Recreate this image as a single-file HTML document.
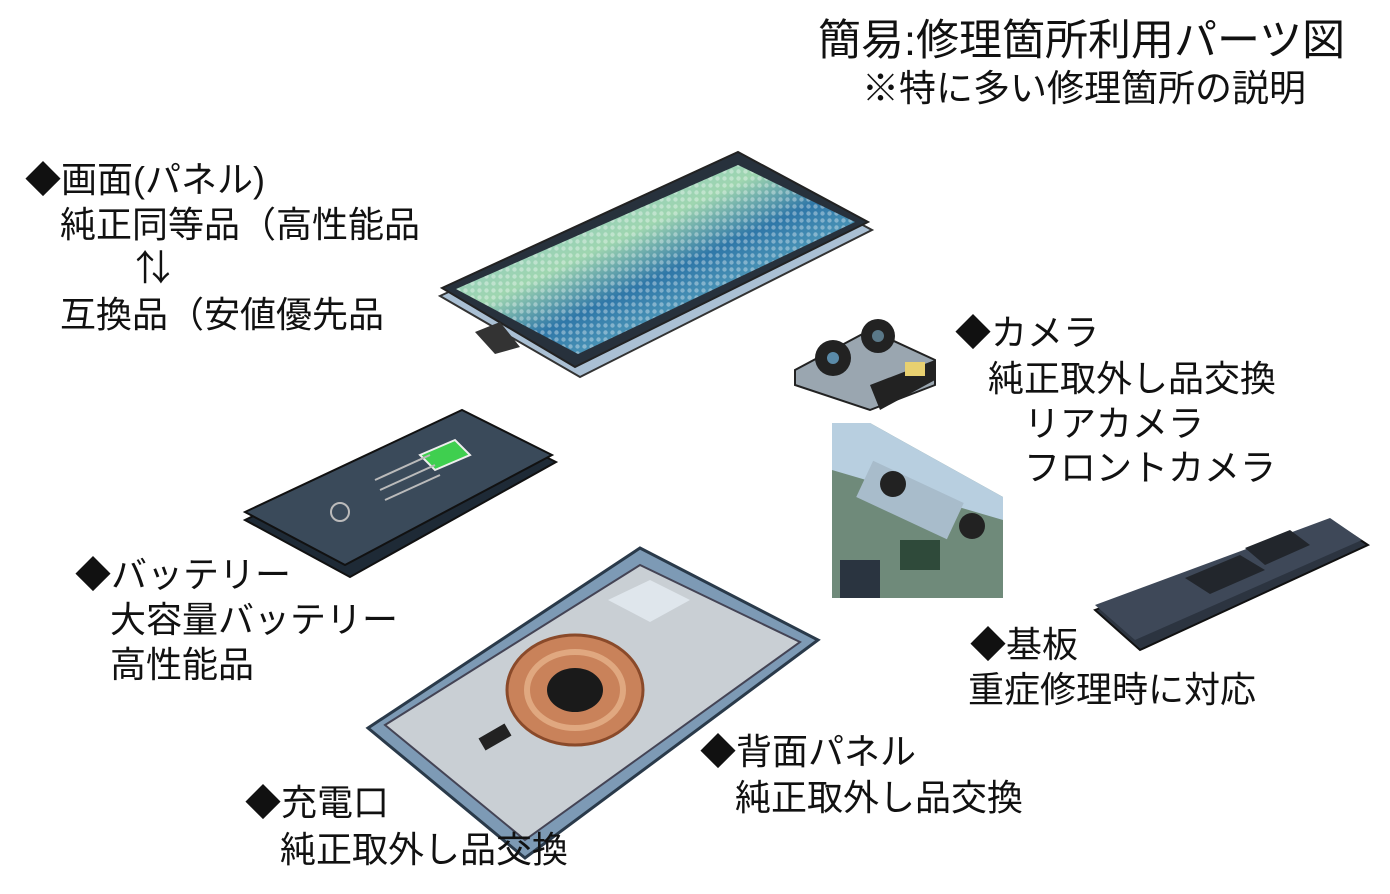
<!DOCTYPE html>
<html><head><meta charset="utf-8"><style>
body{margin:0;width:1390px;height:894px;background:#fff;position:relative;overflow:hidden;font-family:"Liberation Sans","Noto Sans CJK JP",sans-serif;color:#111}
.t{position:absolute;white-space:nowrap;font-size:36px;line-height:45px}
svg{position:absolute;left:0;top:0}
</style></head><body>
<svg width="1390" height="894" viewBox="0 0 1390 894">
<defs>
<linearGradient id="scr" x1="0" y1="0" x2="1" y2="1">
<stop offset="0" stop-color="#7fb9d6"/><stop offset="0.4" stop-color="#9fd6b0"/><stop offset="0.55" stop-color="#2f77a8"/><stop offset="0.8" stop-color="#6db8c8"/><stop offset="1" stop-color="#a0d8c0"/></linearGradient>
<pattern id="dots" width="7" height="7" patternUnits="userSpaceOnUse"><circle cx="3.5" cy="3.5" r="2.2" fill="#ffffff" opacity="0.35"/></pattern>
</defs>
<polygon points="440,296 738,158 872,230 580,377" fill="#aac0d4" stroke="#333" stroke-width="2"/>
<polygon points="442,288 738,152 868,222 575,367" fill="#27313c" stroke="#222" stroke-width="2"/>
<polygon points="456,289 738,165 855,222 578,354" fill="url(#scr)"/>
<polygon points="456,289 738,165 855,222 578,354" fill="url(#dots)"/>
<polygon points="475,332 500,322 520,347 495,354" fill="#333"/>
<polygon points="245,520 462,415 556,462 350,577" fill="#1e2a36" stroke="#111" stroke-width="2"/>
<polygon points="245,512 462,410 552,455 345,565" fill="#3a4a5a" stroke="#111" stroke-width="2"/>
<polygon points="420,455 455,440 470,455 435,470" fill="#3fcf4f" stroke="#eee" stroke-width="2"/>
<line x1="375" y1="480" x2="430" y2="455" stroke="#bbb" stroke-width="2"/>
<line x1="380" y1="490" x2="435" y2="465" stroke="#bbb" stroke-width="2"/>
<line x1="385" y1="500" x2="440" y2="475" stroke="#bbb" stroke-width="2"/>
<circle cx="340" cy="512" r="9" fill="none" stroke="#bbb" stroke-width="2"/>
<polygon points="368,728 640,548 818,640 525,858" fill="#7d9ab5" stroke="#2a3a4a" stroke-width="3"/>
<polygon points="385,725 640,565 800,642 525,840" fill="#c9cfd4" stroke="#445" stroke-width="2"/>
<polygon points="608,600 650,580 690,600 650,622" fill="#dfe6ec"/>
<ellipse cx="575" cy="690" rx="68" ry="55" fill="#c9825a" stroke="#8a4a2a" stroke-width="3"/>
<ellipse cx="575" cy="690" rx="48" ry="38" fill="none" stroke="#e0a880" stroke-width="6"/>
<ellipse cx="575" cy="690" rx="28" ry="22" fill="#1a1a1a"/>
<rect x="480" y="730" width="30" height="14" fill="#222" transform="rotate(-30 495 737)"/>
<polygon points="795,370 870,330 935,360 935,385 870,410 795,385" fill="#9aa6b0" stroke="#222" stroke-width="2"/>
<polygon points="870,385 935,360 935,380 880,410" fill="#222"/>
<rect x="905" y="362" width="20" height="14" fill="#e8d070"/>
<circle cx="833" cy="358" r="18" fill="#222"/><circle cx="833" cy="358" r="6" fill="#5a8aa8"/>
<circle cx="878" cy="336" r="17" fill="#222"/><circle cx="878" cy="336" r="6" fill="#5a7888"/>
<polygon points="832,423 870,423 1003,497 1003,598 832,598" fill="#6f8a7a"/>
<polygon points="832,423 870,423 1003,497 1003,520 832,470" fill="#b8cfe0"/>
<rect x="860" y="480" width="100" height="40" fill="#a8bccb" transform="rotate(25 910 500)"/>
<rect x="900" y="540" width="40" height="30" fill="#2f4a3a"/>
<circle cx="893" cy="484" r="13" fill="#222"/><circle cx="972" cy="526" r="13" fill="#222"/>
<rect x="840" y="560" width="40" height="38" fill="#2a3440"/>
<polygon points="1095,610 1330,520 1368,545 1140,650" fill="#2c3440" stroke="#111" stroke-width="2"/>
<polygon points="1095,605 1330,518 1362,540 1135,640" fill="#3e4858"/>
<polygon points="1185,578 1240,555 1265,570 1210,594" fill="#22262c"/>
<polygon points="1245,548 1290,530 1310,545 1265,565" fill="#22262c"/>
</svg>
<div class="t" style="left:818px;top:16px;font-size:43px;line-height:50px">簡易:修理箇所利用パーツ図</div>
<div class="t" style="left:862px;top:67px;font-size:37px;line-height:44px">※特に多い修理箇所の説明</div>
<div class="t" style="left:25px;top:157px">◆画面(パネル)</div>
<div class="t" style="left:60px;top:202px">純正同等品（高性能品</div>
<div class="t" style="left:135px;top:245px">⇅</div>
<div class="t" style="left:60px;top:292px">互換品（安値優先品</div>
<div class="t" style="left:955px;top:310px">◆カメラ</div>
<div class="t" style="left:988px;top:356px">純正取外し品交換</div>
<div class="t" style="left:1024px;top:401px">リアカメラ</div>
<div class="t" style="left:1024px;top:445px">フロントカメラ</div>
<div class="t" style="left:75px;top:552px">◆バッテリー</div>
<div class="t" style="left:110px;top:597px">大容量バッテリー</div>
<div class="t" style="left:110px;top:642px">高性能品</div>
<div class="t" style="left:970px;top:622px">◆基板</div>
<div class="t" style="left:968px;top:667px">重症修理時に対応</div>
<div class="t" style="left:700px;top:729px">◆背面パネル</div>
<div class="t" style="left:735px;top:775px">純正取外し品交換</div>
<div class="t" style="left:245px;top:780px">◆充電口</div>
<div class="t" style="left:280px;top:827px">純正取外し品交換</div>
</body></html>
